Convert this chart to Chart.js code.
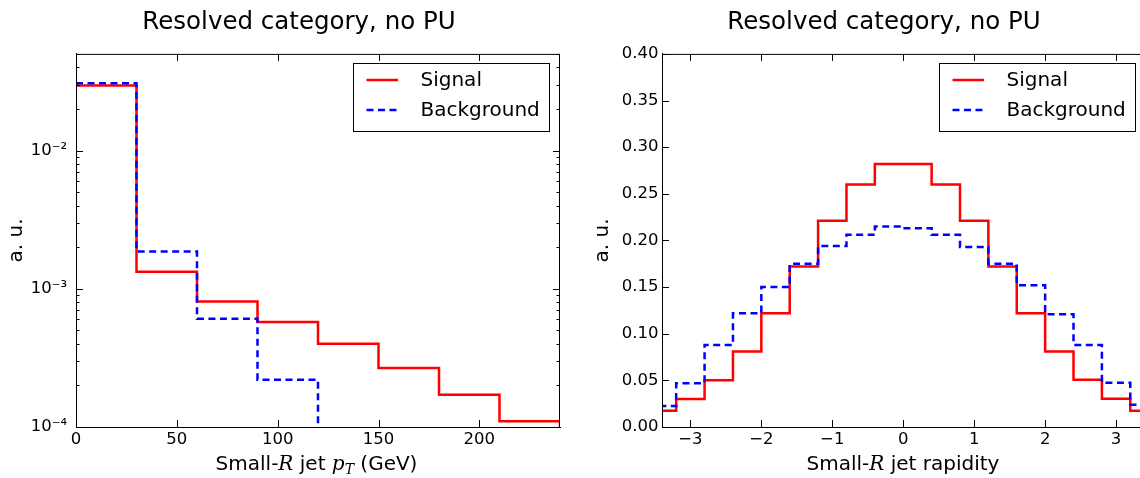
<!DOCTYPE html>
<html>
<head>
<meta charset="utf-8">
<script src="https://cdn.jsdelivr.net/npm/chart.js@4.4.0/dist/chart.umd.min.js"></script>
<style>
  body { margin: 0; background: #fff; }
  #wrap { position: relative; width: 1140px; height: 478px; overflow: hidden; }
  .panel { position: absolute; top: 0; width: 570px; height: 478px; }
</style>
</head>
<body>
<div id="wrap">
  <div class="panel" style="left:0"><canvas id="chart_pt"></canvas></div>
  <div class="panel" style="left:570px"><canvas id="chart_rap"></canvas></div>
</div>
<script>
// ---- left panel: small-R jet pT, 30 GeV bins, log scale
var ptEdges = [0, 30, 60, 90, 120, 150, 180, 210, 240];
var ptSignal = [0.0295, 0.00133, 0.00081, 0.000574, 0.000400, 0.000267, 0.000171, 0.000110];
var ptBackground = [0.0307, 0.00186, 0.000607, 0.000220, 0, 0, 0, 0];
var ptXTicks = [0, 50, 100, 150, 200];
var ptYTicks = [1e-4, 1e-3, 1e-2];
var ptYTickLabels = ['10⁻⁴', '10⁻³', '10⁻²'];

// ---- right panel: small-R jet rapidity, 0.4 bins
var rapEdges = [-3.6, -3.2, -2.8, -2.4, -2.0, -1.6, -1.2, -0.8, -0.4, 0, 0.4, 0.8, 1.2, 1.6, 2.0, 2.4, 2.8, 3.2, 3.6];
var rapSignal = [0.0174, 0.030, 0.050, 0.081, 0.122, 0.172, 0.221, 0.260, 0.282,
                 0.282, 0.260, 0.221, 0.172, 0.122, 0.081, 0.0506, 0.0303, 0.0174];
var rapBackground = [0.0225, 0.047, 0.088, 0.122, 0.150, 0.175, 0.194, 0.206, 0.215,
                     0.213, 0.206, 0.193, 0.175, 0.152, 0.121, 0.088, 0.0474, 0.0239];
var rapXTicks = [-3, -2, -1, 0, 1, 2, 3];
var rapXTickLabels = ['−3', '−2', '−1', '0', '1', '2', '3'];
var rapYTicks = [0, 0.05, 0.10, 0.15, 0.20, 0.25, 0.30, 0.35, 0.40];

var seriesNames = ['Signal', 'Background'];
var titleText = 'Resolved category, no PU';

var FONT = '"DejaVu Sans", "Bitstream Vera Sans", sans-serif';
var MATH = '"DejaVu Serif", serif';

// histogram outline (matplotlib histtype=step)
function stepPoints(edges, vals, floor, riser) {
    var pts = riser ? [{x: edges[0], y: floor}] : [];
    for (var i = 0; i < vals.length; i++) {
        pts.push({x: edges[i], y: vals[i] > 0 ? vals[i] : floor});
    }
    var last = vals[vals.length - 1];
    pts.push({x: edges[edges.length - 1], y: last > 0 ? last : floor});
    pts.push({x: edges[edges.length - 1], y: floor});
    return pts;
}

function histDatasets(edges, sig, bkg, floor, riser) {
    return [
        {
            label: seriesNames[0],
            data: stepPoints(edges, sig, floor, riser),
            borderColor: '#ff0000',
            borderWidth: 2.5,
            stepped: 'before',
            pointRadius: 0,
            fill: false,
            order: 1
        },
        {
            label: seriesNames[1],
            data: stepPoints(edges, bkg, floor, riser),
            borderColor: '#0000ff',
            borderWidth: 2.5,
            borderDash: [7, 4.5],
            stepped: 'before',
            pointRadius: 0,
            fill: false,
            order: 0
        }
    ];
}

// frame + inward ticks like old matplotlib
function frameTicks(o) {
    return {
        id: 'frameTicks',
        afterDatasetsDraw: function (chart) {
            var ctx = chart.ctx, a = chart.chartArea, sx = chart.scales.x, sy = chart.scales.y;
            ctx.save();
            ctx.strokeStyle = '#000';
            ctx.lineWidth = 1;
            ctx.beginPath();
            ctx.moveTo(a.left, a.top + 0.5);
            ctx.lineTo(a.right, a.top + 0.5);
            ctx.moveTo(a.left + 0.5, a.top);
            ctx.lineTo(a.left + 0.5, a.bottom);
            if (o.rightEdge) {
                ctx.moveTo(a.right - 0.5, a.top);
                ctx.lineTo(a.right - 0.5, a.bottom);
            }
            sx.ticks.forEach(function (t) {
                var p = Math.round(sx.getPixelForValue(t.value)) + 0.5;
                ctx.moveTo(p, a.bottom); ctx.lineTo(p, a.bottom - o.major);
                ctx.moveTo(p, a.top); ctx.lineTo(p, a.top + o.major);
            });
            var yt = sy.ticks.map(function (t) { return {v: t.value, len: o.major}; });
            (o.minorY || []).forEach(function (v) { yt.push({v: v, len: o.minor}); });
            yt.forEach(function (t) {
                var p = Math.round(sy.getPixelForValue(t.v)) + 0.5;
                ctx.moveTo(a.left, p); ctx.lineTo(a.left + t.len, p);
                if (o.rightEdge) { ctx.moveTo(a.right, p); ctx.lineTo(a.right - t.len, p); }
            });
            ctx.stroke();
            ctx.restore();
        }
    };
}

// boxed legend in the upper right corner
function boxLegend(o) {
    return {
        id: 'boxLegend',
        afterDraw: function (chart) {
            var ctx = chart.ctx;
            ctx.save();
            ctx.fillStyle = '#fff';
            ctx.fillRect(o.x, o.y, o.w, o.h);
            ctx.strokeStyle = '#000';
            ctx.lineWidth = 1;
            ctx.strokeRect(o.x + 0.5, o.y + 0.5, o.w, o.h);
            chart.data.datasets.forEach(function (ds, i) {
                var yy = o.y + 17 + i * 30;
                ctx.beginPath();
                ctx.strokeStyle = ds.borderColor;
                ctx.lineWidth = ds.borderWidth;
                ctx.setLineDash(ds.borderDash || []);
                ctx.moveTo(o.x + 13.5, yy);
                ctx.lineTo(o.x + 45, yy);
                ctx.stroke();
                ctx.setLineDash([]);
                ctx.fillStyle = '#000';
                ctx.font = '20px ' + FONT;
                ctx.textBaseline = 'middle';
                ctx.fillText(ds.label, o.x + 67.5, yy + 1);
            });
            ctx.restore();
        }
    };
}

// x axis title with math-italic pieces
function axisLabel(parts, dx, y) {
    return {
        id: 'axisLabel',
        afterDraw: function (chart) {
            var ctx = chart.ctx, a = chart.chartArea;
            ctx.save();
            var widths = parts.map(function (p) { ctx.font = p.font; return ctx.measureText(p.text).width; });
            var total = widths.reduce(function (s, w) { return s + w; }, 0);
            var x = (a.left + a.right) / 2 + dx - total / 2;
            ctx.fillStyle = '#000';
            ctx.textBaseline = 'alphabetic';
            parts.forEach(function (p, i) {
                ctx.font = p.font;
                ctx.fillText(p.text, x, y + (p.dy || 0));
                x += widths[i];
            });
            ctx.restore();
        }
    };
}

function shiftTitle(dx) {
    return {
        id: 'shiftTitle',
        afterLayout: function (chart) {
            if (chart.titleBlock) {
                chart.titleBlock.left += dx;
                chart.titleBlock.right += dx;
            }
        }
    };
}

var sans20 = '20px ' + FONT;
var ptXTitle = [
    {text: 'Small-', font: sans20},
    {text: 'R', font: 'italic 20px ' + MATH},
    {text: ' jet ', font: sans20},
    {text: 'p', font: 'italic 20px ' + MATH},
    {text: 'T', font: 'italic 14px ' + MATH, dy: 4},
    {text: ' (GeV)', font: sans20}
];
var rapXTitle = [
    {text: 'Small-', font: sans20},
    {text: 'R', font: 'italic 20px ' + MATH},
    {text: ' jet rapidity', font: sans20}
];

var ptMinor = [];
[1e-4, 1e-3, 1e-2].forEach(function (d) {
    for (var m = 2; m <= 9; m++) { if (m * d <= 0.05) ptMinor.push(m * d); }
});

function titleOpts() {
    return {
        display: true,
        text: titleText,
        color: '#000',
        font: {family: FONT, size: 24.5, weight: 'normal'},
        padding: {top: 8, bottom: 16.5}
    };
}

var tickFont = {family: FONT, size: 16.5};

var chart_pt = new Chart(document.getElementById('chart_pt'), {
    type: 'line',
    data: {datasets: histDatasets(ptEdges, ptSignal, ptBackground, 1e-6, false)},
    options: {
        animation: false,
        responsive: true,
        maintainAspectRatio: false,
        events: [],
        layout: {padding: {left: 0, right: 10, top: 0, bottom: 0}},
        plugins: {
            title: titleOpts(),
            legend: {display: false},
            tooltip: {enabled: false}
        },
        scales: {
            x: {
                type: 'linear',
                min: 0,
                max: 240,
                afterBuildTicks: function (s) { s.ticks = ptXTicks.map(function (v) { return {value: v}; }); },
                afterFit: function (s) { s.height = 51; },
                grid: {display: false, drawTicks: false},
                border: {display: true, color: '#000', width: 1},
                ticks: {color: '#000', font: tickFont, padding: 3, maxRotation: 0, autoSkip: false}
            },
            y: {
                type: 'logarithmic',
                min: 1e-4,
                max: 0.05,
                afterBuildTicks: function (s) { s.ticks = ptYTicks.map(function (v) { return {value: v}; }); },
                afterFit: function (s) { s.width = 76; },
                grid: {display: false, drawTicks: false},
                border: {display: true, color: '#000', width: 1},
                ticks: {
                    color: '#000', font: tickFont, padding: 9, autoSkip: false,
                    callback: function (v) { return ptYTickLabels[ptYTicks.indexOf(v)]; }
                },
                title: {display: true, text: 'a. u.', color: '#000', font: {family: FONT, size: 20}, padding: {top: 5, bottom: 0}}
            }
        }
    },
    plugins: [
        shiftTitle(19),
        frameTicks({rightEdge: true, major: 7, minor: 3.5, minorY: ptMinor}),
        boxLegend({x: 353, y: 63, w: 196, h: 68}),
        axisLabel(ptXTitle, -1.5, 470)
    ]
});

var chart_rap = new Chart(document.getElementById('chart_rap'), {
    type: 'line',
    data: {datasets: histDatasets(rapEdges, rapSignal, rapBackground, 0, true)},
    options: {
        animation: false,
        responsive: true,
        maintainAspectRatio: false,
        events: [],
        layout: {padding: {left: 0, right: 0, top: 0, bottom: 0}},
        plugins: {
            title: titleOpts(),
            legend: {display: false},
            tooltip: {enabled: false}
        },
        scales: {
            x: {
                type: 'linear',
                min: -3.4,
                max: 3.337,
                afterBuildTicks: function (s) { s.ticks = rapXTicks.map(function (v) { return {value: v}; }); },
                afterFit: function (s) { s.height = 51; },
                grid: {display: false, drawTicks: false},
                border: {display: true, color: '#000', width: 1},
                ticks: {
                    color: '#000', font: tickFont, padding: 3, maxRotation: 0, autoSkip: false,
                    callback: function (v) { return rapXTickLabels[rapXTicks.indexOf(v)]; }
                }
            },
            y: {
                type: 'linear',
                min: 0,
                max: 0.40,
                afterBuildTicks: function (s) { s.ticks = rapYTicks.map(function (v) { return {value: v}; }); },
                afterFit: function (s) { s.width = 92; },
                grid: {display: false, drawTicks: false},
                border: {display: true, color: '#000', width: 1},
                ticks: {
                    color: '#000', font: tickFont, padding: 3.5, autoSkip: false,
                    callback: function (v) { return v.toFixed(2); }
                },
                title: {display: true, text: 'a. u.', color: '#000', font: {family: FONT, size: 20}, padding: {top: 21, bottom: 0}}
            }
        }
    },
    plugins: [
        shiftTitle(29),
        frameTicks({rightEdge: false, major: 7, minor: 3.5}),
        boxLegend({x: 369, y: 63, w: 196, h: 68}),
        axisLabel(rapXTitle, 2, 470)
    ]
});
</script>
</body>
</html>
